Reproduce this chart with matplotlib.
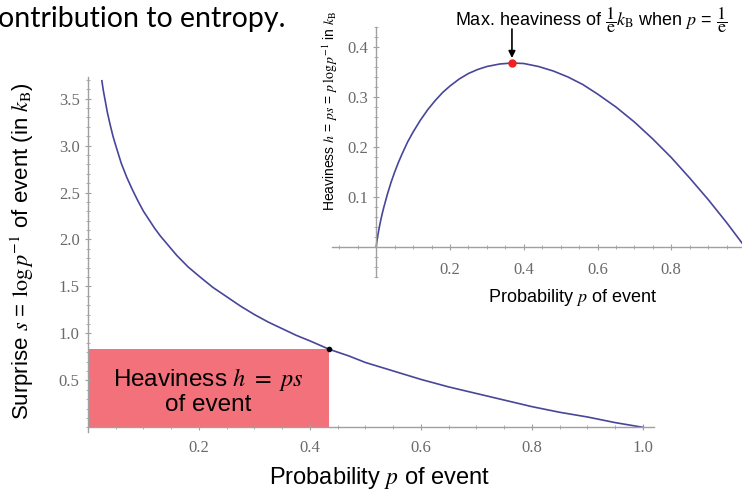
import numpy as np
import matplotlib.pyplot as plt
from matplotlib.ticker import MultipleLocator, FixedLocator

plt.rcParams['mathtext.fontset'] = 'stix'

# main curve: surprise s against probability p
p_main = [0.025, 0.0275, 0.03, 0.035, 0.04, 0.045, 0.05, 0.06, 0.07, 0.08, 0.09, 0.10,
          0.11, 0.12, 0.13, 0.14, 0.16, 0.18, 0.20, 0.225, 0.25, 0.275, 0.30, 0.325,
          0.35, 0.375, 0.40, 0.435, 0.47, 0.50, 0.55, 0.60, 0.65, 0.70, 0.75, 0.80,
          0.85, 0.90, 0.95, 1.00]
s_main = [3.69, 3.59, 3.51, 3.35, 3.22, 3.10, 3.00, 2.81, 2.66, 2.53, 2.41, 2.30,
          2.21, 2.12, 2.04, 1.97, 1.83, 1.71, 1.61, 1.49, 1.39, 1.29, 1.20, 1.12,
          1.05, 0.98, 0.92, 0.83, 0.76, 0.69, 0.60, 0.51, 0.43, 0.36, 0.29, 0.22,
          0.16, 0.11, 0.05, 0.00]

# highlighted event
p_event = 0.435
s_event = 0.83

# inset curve: heaviness h against p
p_inset = [0.0, 0.001, 0.002, 0.004, 0.007, 0.01, 0.015, 0.02, 0.03, 0.04, 0.05,
           0.06, 0.07, 0.085, 0.10, 0.12, 0.14, 0.16, 0.18, 0.20, 0.225, 0.25,
           0.275, 0.30, 0.335, 0.368, 0.40, 0.44, 0.48, 0.52, 0.56, 0.60, 0.65,
           0.70, 0.75, 0.80, 0.85, 0.90, 0.95, 1.00]
h_inset = [0.0, 0.0069, 0.0124, 0.0221, 0.0347, 0.046, 0.063, 0.078, 0.105, 0.129,
           0.150, 0.169, 0.186, 0.210, 0.230, 0.254, 0.275, 0.293, 0.309, 0.322,
           0.336, 0.347, 0.355, 0.361, 0.366, 0.368, 0.367, 0.361, 0.352, 0.340,
           0.325, 0.306, 0.280, 0.250, 0.216, 0.179, 0.138, 0.095, 0.049, 0.0]
p_max = 0.368
h_max = 0.368

main_xticks = [0.2, 0.4, 0.6, 0.8, 1.0]
main_yticks = [0.5, 1.0, 1.5, 2.0, 2.5, 3.0, 3.5]
inset_xticks = [0.2, 0.4, 0.6, 0.8, 1.0]
inset_xlabels = ['0.2', '0.4', '0.6', '0.8', '1']
inset_yticks = [0.1, 0.2, 0.3, 0.4]

line_col = '#47469a'
axis_col = '#a0a0a0'
tick_col = '#6a6a6a'
sans = ['Liberation Sans', 'DejaVu Sans']


def style_axes(ax):
    for side in ['top', 'right']:
        ax.spines[side].set_visible(False)
    ax.spines['left'].set_position(('data', 0))
    ax.spines['bottom'].set_position(('data', 0))
    for side in ['left', 'bottom']:
        ax.spines[side].set_color(axis_col)
        ax.spines[side].set_linewidth(1.0)
    ax.patch.set_alpha(0)
    ax.tick_params(which='both', direction='inout', color=axis_col,
                   labelcolor=tick_col)
    ax.tick_params(which='major', length=5, width=0.8)
    ax.tick_params(which='minor', length=3, width=0.6)
    for lab in ax.get_xticklabels() + ax.get_yticklabels():
        lab.set_family('Liberation Serif')


fig = plt.figure(figsize=(7.42, 4.96), dpi=100)

# main axes
ax = fig.add_axes([88 / 742, (496 - 432) / 496, 566 / 742, 355 / 496])
ax.plot(p_main, s_main, color=line_col, lw=1.2)
ax.add_patch(plt.Rectangle((0, 0), p_event, s_event, facecolor='#f36570',
                           alpha=0.92, edgecolor='none', zorder=1))
ax.plot([p_event], [s_event], 'o', color='black', ms=3, zorder=4)
ax.set_xlim(0, 1.02)
ax.set_ylim(-0.05, 3.73)
ax.xaxis.set_major_locator(FixedLocator(main_xticks))
ax.yaxis.set_major_locator(FixedLocator(main_yticks))
ax.xaxis.set_minor_locator(MultipleLocator(0.05))
ax.yaxis.set_minor_locator(MultipleLocator(0.1))
ax.tick_params(labelsize=12)
ax.tick_params(axis='x', pad=7)
style_axes(ax)
ax.text(0.216, 0.39, 'Heaviness $h\\ =\\ ps$\nof event', ha='center', va='center',
        fontsize=17.5, family=sans, linespacing=1.05, zorder=5)

fig.text(380 / 742, 1 - 478 / 496, 'Probability $p$ of event', ha='center',
         va='center', fontsize=17, family=sans)
fig.text(22 / 742, 1 - 251 / 496,
         r'Surprise $s$ = $\log p^{-1}$ of event (in $k_\mathrm{B}$)',
         ha='center', va='center', rotation=90, fontsize=16, family=sans)

# inset axes
ax2 = fig.add_axes([332 / 742, (496 - 277) / 496, 413 / 742, 250 / 496])
ax2.plot(p_inset, h_inset, color=line_col, lw=1.2)
ax2.plot([p_max], [h_max], 'o', color='#ee2222', ms=5, zorder=5)
ax2.set_xlim(-0.12, 1.0)
ax2.set_ylim(-0.06, 0.44)
ax2.xaxis.set_major_locator(FixedLocator(inset_xticks))
ax2.set_xticklabels(inset_xlabels)
ax2.yaxis.set_major_locator(FixedLocator(inset_yticks))
ax2.xaxis.set_minor_locator(MultipleLocator(0.05))
ax2.yaxis.set_minor_locator(MultipleLocator(0.02))
ax2.tick_params(labelsize=12)
ax2.tick_params(axis='x', pad=8)
style_axes(ax2)
ax2.annotate('', xy=(p_max, h_max + 0.01), xytext=(p_max, 0.436),
             arrowprops=dict(arrowstyle='-|>', color='black', lw=1.2,
                             mutation_scale=10, shrinkA=0, shrinkB=0),
             annotation_clip=False)

fig.text(573 / 742, 1 - 297 / 496, 'Probability $p$ of event', ha='center',
         va='center', fontsize=13, family=sans)
fig.text(330 / 742, 1 - 111 / 496,
         r'Heaviness $h$ = $ps$ = $p\,\log p^{-1}$ in $k_\mathrm{B}$',
         ha='center', va='center', rotation=90, fontsize=10, family=sans)
fig.text(455 / 742, 1 - 20 / 496,
         r'Max. heaviness of $\dfrac{1}{\mathrm{e}}k_\mathrm{B}$ when $p$ = $\dfrac{1}{\mathrm{e}}$',
         ha='left', va='center', fontsize=13, family=sans)

# cropped slide heading
fig.text(-2 / 742, 1 - 19 / 496, 'ontribution to entropy.', ha='left',
         va='center', fontsize=20.5, family=['Lato', 'DejaVu Sans'])

fig.savefig('out.png', dpi=100)
